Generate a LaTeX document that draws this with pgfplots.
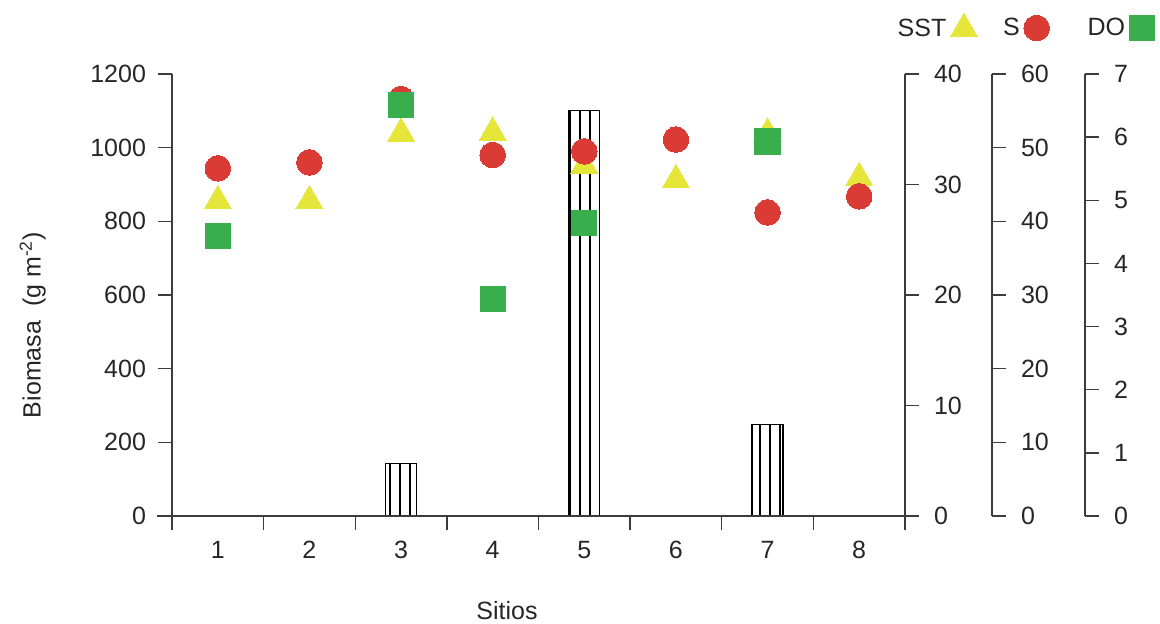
\documentclass[border=0pt]{standalone}
\usepackage{fontspec}
\setmainfont{Liberation Sans}
\usepackage{pgfplots}
\pgfplotsset{compat=1.18}
\usetikzlibrary{patterns.meta}
\definecolor{cyel}{RGB}{229,229,58}
\definecolor{cred}{RGB}{218,60,53}
\definecolor{cgrn}{RGB}{56,174,76}
\definecolor{axgray}{RGB}{60,60,60}
\pgfplotsset{
  common/.style={
    scale only axis, width=366.5pt, height=221pt,
    xmin=0.5, xmax=8.5, clip=false,
    /pgf/number format/assume math mode=true,
    /pgf/number format/1000 sep={},
    tick label style={font=\fontsize{12.5}{14}\selectfont, text=black!85},
    label style={font=\fontsize{12.5}{14}\selectfont, text=black!85},
    axis line style={-, draw=axgray, line width=0.7pt},
    every tick/.style={draw=axgray, line width=0.7pt},
    major tick length=7pt,
    minor tick length=7pt,
    legend plot pos=right,
    legend style={draw=none, fill=none, inner sep=0pt, font=\fontsize{12.5}{14}\selectfont, text=black!85},
  },
  rightax/.style={common, at={(0pt,0pt)}, anchor=south west,
    axis x line=none, axis y line*=right, tick align=outside,
    yticklabel style={xshift=4pt}},
}
\begin{document}
\begin{tikzpicture}
\path[use as bounding box] (-86pt,-54pt) rectangle (494pt,258pt);
% main axis: Biomasa
\begin{axis}[common, at={(0pt,0pt)}, anchor=south west,
  axis x line*=bottom, axis y line*=left, tick align=outside,
  ymin=0, ymax=1200, ytick={0,200,...,1200},
  yticklabel style={xshift=-2.5pt},
  xtick={1,...,8}, major x tick style={draw=none},
  xticklabel style={yshift=-2pt},
  minor xtick={0.5,1.5,...,8.5},
  ylabel={Biomasa\ \ (g m\textsuperscript{-2})},
  ylabel style={at={(axis description cs:-0.19,0.432)}, anchor=center},
  xlabel={Sitios},
  xlabel style={at={(axis description cs:0.457,-0.213)}, anchor=center},
]
\addplot[ybar, bar width=15.5pt, draw=black, line width=0.6pt, fill=white,
  postaction={pattern={Lines[angle=90,distance=5pt,line width=0.7pt]}}]
  coordinates {(3,143) (5,1100) (7,248)};
\draw[axgray, line width=0.7pt] (axis cs:0.34,0) -- (axis cs:8.63,0);
\end{axis}
% SST axis
\begin{axis}[rightax,
  ymin=0, ymax=40, ytick={0,10,...,40},
  legend style={at={(axis description cs:0.984,1.104)}, anchor=west},
]
\addplot[only marks, color=cyel, mark=triangle*, mark size=7.9pt, mark options={draw=cyel, fill=cyel, line width=0pt}]
  coordinates {(1,28.5) (2,28.5) (3,34.6) (4,34.7) (5,31.7) (6,30.4) (7,34.6) (8,30.6)};
\addlegendentry{SST}
\end{axis}
% S axis
\begin{axis}[rightax, axis y line shift=43.5pt,
  ymin=0, ymax=60, ytick={0,10,...,60},
  legend style={at={(axis description cs:1.128,1.104)}, anchor=west},
]
\addplot[only marks, color=cred, mark=*, mark size=6.4pt, mark options={draw=cred, fill=cred, line width=0pt}]
  coordinates {(1,47.2) (2,48.0) (3,56.6) (4,49.0) (5,49.5) (6,51.1) (7,41.2) (8,43.4)};
\addlegendentry{S}
\end{axis}
% DO axis
\begin{axis}[rightax, axis y line shift=90pt,
  ymin=0, ymax=7, ytick={0,1,...,7},
  legend style={at={(axis description cs:1.243,1.104)}, anchor=west},
]
\addplot[only marks, color=cgrn, mark=square*, mark size=6.3pt, mark options={draw=cgrn, fill=cgrn, line width=0pt}]
  coordinates {(1,4.43) (3,6.51) (4,3.44) (5,4.64) (7,5.93)};
\addlegendentry{DO}
\end{axis}
\end{tikzpicture}
\end{document}
